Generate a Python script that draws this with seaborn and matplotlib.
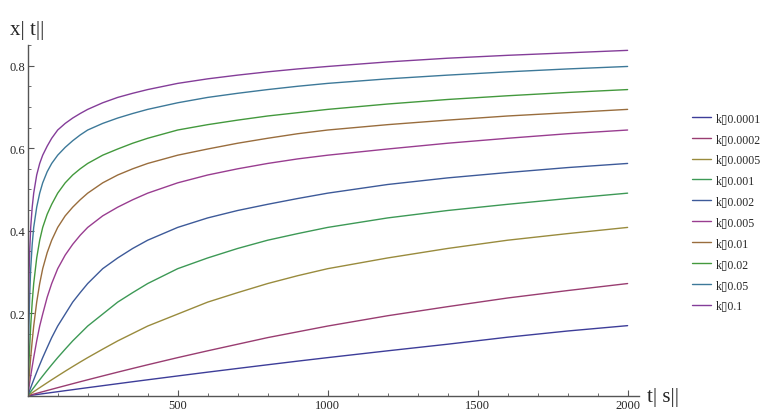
import numpy as np
import pandas as pd
import matplotlib
matplotlib.use("Agg")
import matplotlib.pyplot as plt
import seaborn as sns
from matplotlib.lines import Line2D
from matplotlib.ticker import MultipleLocator

sns.set_style("white")
plt.rcParams['font.family'] = ['Liberation Serif', 'DejaVu Sans']

# time grid (s)
t = [0, 1, 2, 3, 5, 7, 10, 15, 20, 30, 40, 50, 65, 80, 100, 125, 150, 175, 200,
     250, 300, 350, 400, 500, 600, 700, 800, 900, 1000, 1200, 1400, 1600, 1800, 2000]

# rate constants and curves
k_labels = ['0.0001', '0.0002', '0.0005', '0.001', '0.002', '0.005', '0.01', '0.02', '0.05', '0.1']

x_0001 = [0, 0.0001, 0.0002, 0.0003, 0.0005, 0.0007, 0.001, 0.0015, 0.002, 0.003, 0.004, 0.005, 0.0065, 0.008,
          0.0099, 0.0124, 0.0148, 0.0173, 0.0197, 0.0245, 0.0293, 0.0341, 0.0388, 0.0481, 0.0573, 0.0663,
          0.0752, 0.084, 0.0925, 0.109, 0.125, 0.142, 0.157, 0.170]
x_0002 = [0, 0.0002, 0.0004, 0.0006, 0.001, 0.0014, 0.002, 0.003, 0.004, 0.006, 0.008, 0.0099, 0.0129, 0.0158,
          0.0197, 0.0245, 0.0293, 0.0341, 0.0388, 0.0481, 0.0573, 0.0663, 0.0752, 0.0925, 0.109, 0.125,
          0.141, 0.155, 0.169, 0.194, 0.216, 0.237, 0.255, 0.272]
x_0005 = [0, 0.0005, 0.001, 0.0015, 0.0025, 0.0035, 0.005, 0.0075, 0.0099, 0.0148, 0.0197, 0.0245, 0.0317, 0.0388,
          0.0481, 0.0596, 0.0708, 0.0818, 0.0925, 0.113, 0.133, 0.151, 0.169, 0.198, 0.227, 0.250,
          0.272, 0.291, 0.308, 0.334, 0.357, 0.377, 0.393, 0.408]
x_001 = [0, 0.001, 0.002, 0.003, 0.005, 0.007, 0.0099, 0.0148, 0.0197, 0.0293, 0.0388, 0.0481, 0.0618, 0.0752,
         0.0925, 0.113, 0.133, 0.151, 0.169, 0.198, 0.227, 0.250, 0.272, 0.308, 0.334, 0.357,
         0.377, 0.393, 0.408, 0.431, 0.449, 0.464, 0.478, 0.491]
x_002 = [0, 0.002, 0.004, 0.006, 0.0099, 0.0139, 0.0197, 0.0293, 0.0388, 0.0573, 0.0752, 0.0925, 0.117, 0.141,
         0.169, 0.198, 0.227, 0.250, 0.272, 0.308, 0.334, 0.357, 0.377, 0.408, 0.431, 0.449,
         0.464, 0.478, 0.491, 0.512, 0.528, 0.541, 0.553, 0.563]
x_005 = [0, 0.005, 0.0099, 0.0148, 0.0245, 0.0341, 0.0481, 0.0708, 0.0925, 0.133, 0.169, 0.198, 0.239, 0.272,
         0.308, 0.341, 0.367, 0.389, 0.408, 0.436, 0.457, 0.475, 0.491, 0.516, 0.535, 0.550,
         0.563, 0.574, 0.583, 0.598, 0.612, 0.624, 0.635, 0.644]
x_01 = [0, 0.0099, 0.0197, 0.0293, 0.0481, 0.0663, 0.0925, 0.133, 0.169, 0.227, 0.272, 0.308, 0.347, 0.377,
        0.408, 0.436, 0.457, 0.475, 0.491, 0.516, 0.535, 0.550, 0.563, 0.583, 0.598, 0.612,
        0.624, 0.635, 0.644, 0.657, 0.668, 0.678, 0.686, 0.694]
x_02 = [0, 0.0197, 0.0388, 0.0573, 0.0925, 0.125, 0.169, 0.227, 0.272, 0.334, 0.377, 0.408, 0.440, 0.464,
        0.491, 0.516, 0.535, 0.550, 0.563, 0.583, 0.598, 0.612, 0.624, 0.644, 0.657, 0.668,
        0.678, 0.686, 0.694, 0.707, 0.718, 0.727, 0.735, 0.742]
x_05 = [0, 0.0481, 0.0925, 0.133, 0.198, 0.250, 0.308, 0.367, 0.408, 0.457, 0.491, 0.516, 0.543, 0.563,
        0.583, 0.602, 0.618, 0.632, 0.644, 0.660, 0.673, 0.684, 0.694, 0.710, 0.723, 0.733,
        0.742, 0.750, 0.757, 0.768, 0.777, 0.785, 0.792, 0.798]
x_1 = [0, 0.0925, 0.169, 0.227, 0.308, 0.357, 0.408, 0.457, 0.491, 0.535, 0.563, 0.583, 0.605, 0.624,
       0.644, 0.660, 0.673, 0.684, 0.694, 0.710, 0.723, 0.733, 0.742, 0.757, 0.768, 0.777,
       0.785, 0.792, 0.798, 0.809, 0.818, 0.825, 0.831, 0.837]

curves = [x_0001, x_0002, x_0005, x_001, x_002, x_005, x_01, x_02, x_05, x_1]

colors = [(0.24, 0.24, 0.6), (0.6, 0.24, 0.443), (0.6, 0.547, 0.24), (0.24, 0.6, 0.337),
          (0.24, 0.353, 0.6), (0.6, 0.24, 0.563), (0.6, 0.427, 0.24), (0.263, 0.6, 0.24),
          (0.24, 0.474, 0.6), (0.516, 0.24, 0.6)]

rows = []
for lab, xs in zip(k_labels, curves):
    for ti, xi in zip(t, xs):
        rows.append({'t': ti, 'x': xi, 'k': lab})
df = pd.DataFrame(rows)

fig = plt.figure(figsize=(7.66, 4.10), dpi=100)
ax = fig.add_axes([27.7 / 766, 13.2 / 410, 611.3 / 766, 350.8 / 410])
sns.lineplot(data=df, x='t', y='x', hue='k', hue_order=k_labels,
             palette=colors, estimator=None, lw=1.0, legend=False, ax=ax)

ax.set_xlim(0, 2038)
ax.set_ylim(0, 0.85)
ax.set_xlabel('')
ax.set_ylabel('')
for s in ['top', 'right']:
    ax.spines[s].set_visible(False)
for s in ['left', 'bottom']:
    ax.spines[s].set_color('#555555')
    ax.spines[s].set_linewidth(1.0)

ax.set_xticks([500, 1000, 1500, 2000])
ax.set_xticklabels(['500', '1000', '1500', '2000'])
ax.set_yticks([0.2, 0.4, 0.6, 0.8])
ax.set_yticklabels(['0.2', '0.4', '0.6', '0.8'])
ax.xaxis.set_minor_locator(MultipleLocator(100))
ax.yaxis.set_minor_locator(MultipleLocator(0.05))
ax.tick_params(which='both', bottom=True, left=True)
ax.tick_params(which='major', direction='in', length=4, width=0.8, color='#555555',
               labelsize=9, pad=2)
ax.tick_params(which='minor', direction='in', length=2.5, width=0.6, color='#555555')

fig.text(10 / 766, 1 - 35 / 410, 'x| t||', fontsize=15, va='baseline', ha='left')
fig.text(647 / 766, 1 - 402 / 410, 't| s||', fontsize=15, va='baseline', ha='left')

handles = [Line2D([0], [0], color=c, lw=1.0) for c in colors]
labels = ['k\u25af' + lab for lab in k_labels]
fig.legend(handles, labels, loc='upper left', bbox_to_anchor=(692 / 766, 1 - 113 / 410),
           frameon=False, fontsize=8.5, handlelength=1.6, handletextpad=0.45,
           labelspacing=0.75, borderaxespad=0, borderpad=0)

fig.savefig('out.png', dpi=100)
